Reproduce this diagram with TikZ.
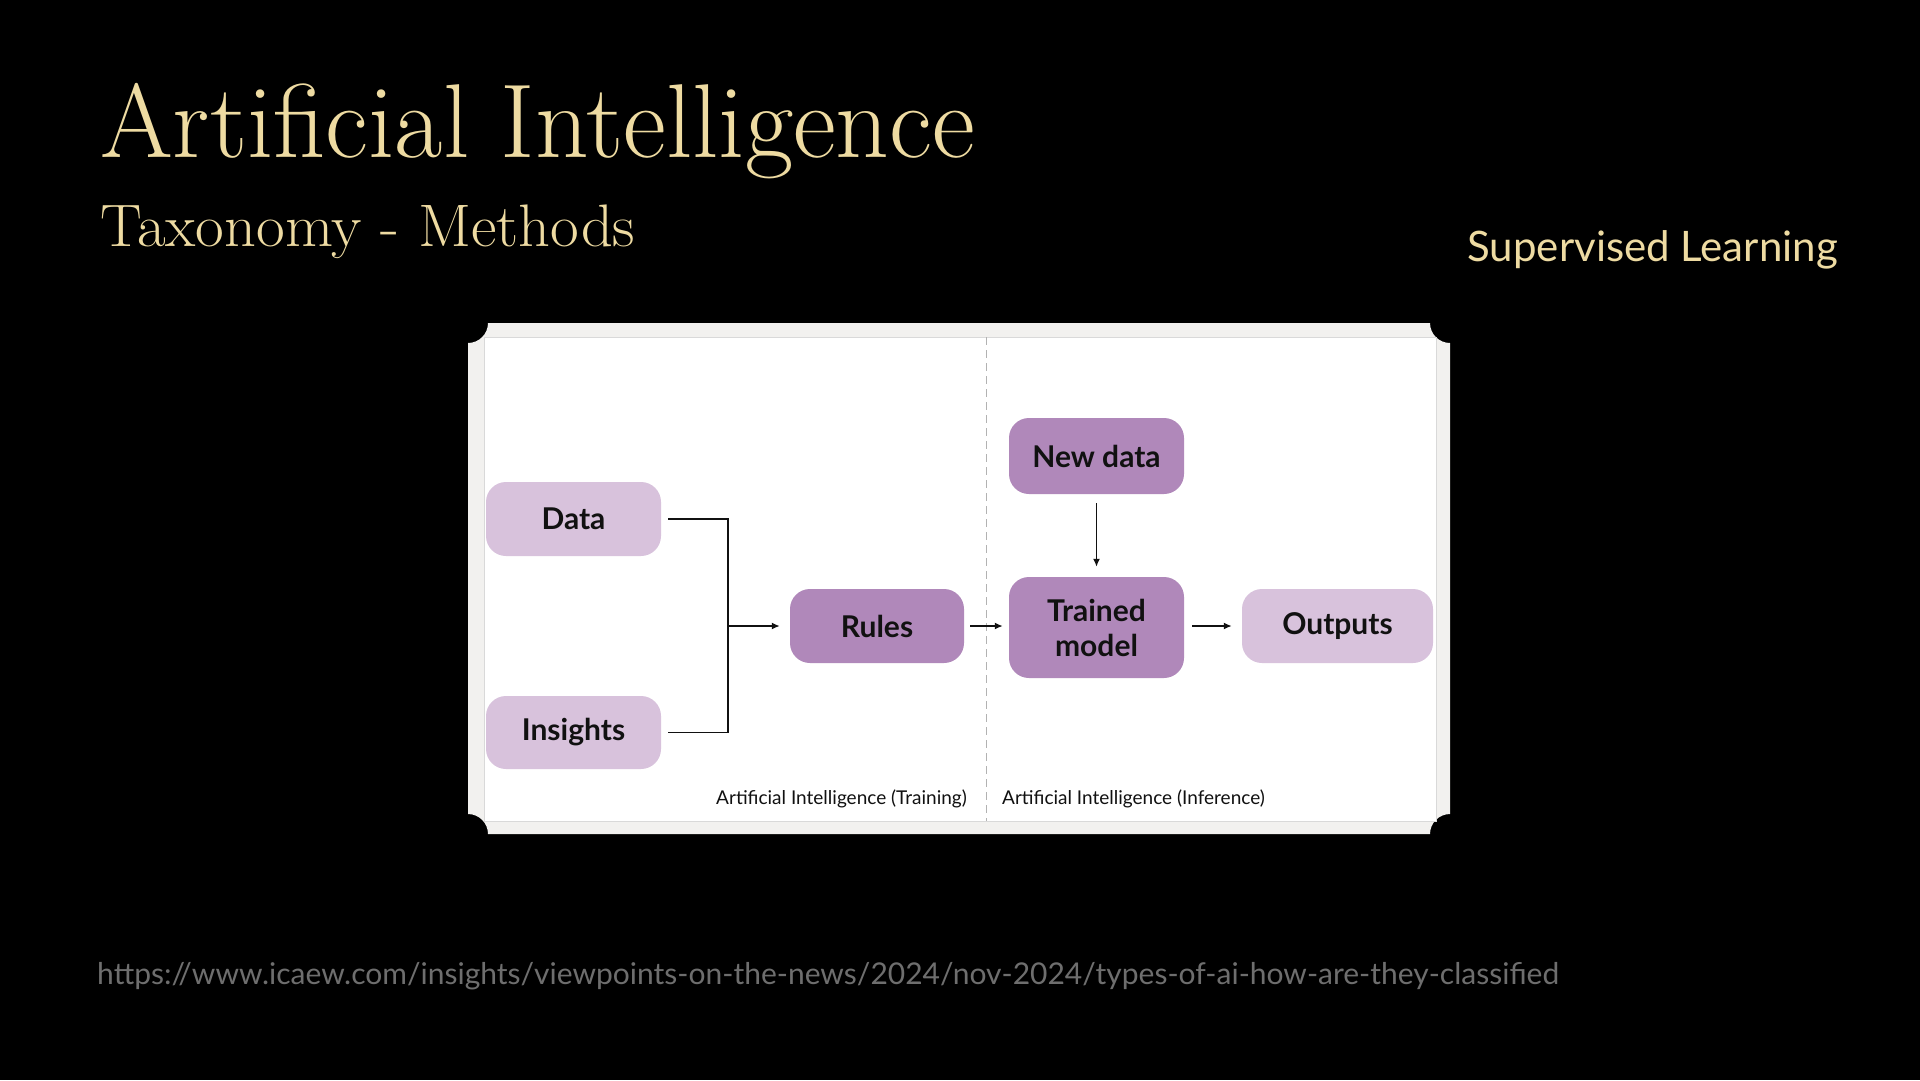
\documentclass[tikz,border=0pt]{standalone}
\usepackage{fontspec}
\usetikzlibrary{arrows.meta}
\newfontfamily\lato{Lato}
\definecolor{cream}{HTML}{EEDBA2}
\definecolor{lightpur}{HTML}{D8C2DC}
\definecolor{darkpur}{HTML}{B088BA}
\definecolor{cardgray}{HTML}{F2F1EF}
\definecolor{urlgray}{HTML}{6E6E6E}
\definecolor{inkc}{HTML}{111111}
\tikzset{
  pbox/.style={rounded corners=20pt, inner sep=0pt, align=center, text=inkc,
    font=\lato\bfseries\fontsize{30}{35}\selectfont},
  light/.style={pbox, fill=lightpur},
  dark/.style={pbox, fill=darkpur},
  conn/.style={line width=1.6pt, draw=inkc},
  arr/.style={conn, -{Latex[length=8pt,width=7pt]}},
  small/.style={font=\lato\fontsize{19}{21}\selectfont, text=inkc, inner sep=0pt}
}
\begin{document}
\begin{tikzpicture}[x=1pt,y=-1pt]
\fill[black] (0,0) rectangle (1920,1080);
\useasboundingbox (0,0) rectangle (1920,1080);
% titles
\node[anchor=base west, inner sep=0pt, text=cream, font=\fontsize{105}{110}\selectfont] (title) at (100,157) {Artificial Intelligence};
\node[anchor=base west, inner sep=0pt, text=cream, font=\fontsize{60}{64}\selectfont] (sub) at (100,246) {\scalebox{1.04}[1]{Taxonomy - Methods}};
\node[anchor=base east, inner sep=0pt, text=cream, font=\lato\fontsize{42}{46}\selectfont] (sup) at (1838,261) {Supervised Learning};
\node[anchor=base west, inner sep=0pt, text=urlgray, font=\lato\fontsize{30}{32}\selectfont] (url) at (97,984) {https://www.icaew.com/insights/viewpoints-on-the-news/2024/nov-2024/types-of-ai-how-are-they-classified};
% card
\fill[cardgray] (488,323) -- (1430,323) .. controls (1430,334) and (1439,343) .. (1450,343)
  -- (1450,814) .. controls (1439,814) and (1430,823) .. (1430,834)
  -- (488,834) .. controls (488,823) and (479,814) .. (468,814)
  -- (468,343) .. controls (479,343) and (488,334) .. (488,323) -- cycle;
\filldraw[fill=white, draw=black!15, line width=0.8pt] (484,337) rectangle (1436,821);
\draw[black!30, line width=1pt, dash pattern=on 8pt off 5pt] (986,337) -- (986,821);
% boxes
\node[light, minimum width=175pt, minimum height=74pt] (data) at (573.5,519) {Data};
\node[light, minimum width=175pt, minimum height=73pt] (ins) at (573.5,732.5) {Insights};
\node[dark, minimum width=174pt, minimum height=74pt] (rules) at (877,626) {Rules};
\node[dark, minimum width=175pt, minimum height=76pt] (new) at (1096.5,456) {New data};
\node[dark, minimum width=175pt, minimum height=101pt] (trained) at (1096.5,627.5) {Trained\\model};
\node[light, minimum width=191pt, minimum height=74pt] (out) at (1337.5,626) {Outputs};
% connectors
\coordinate (j) at (728,626);
\draw[conn] ([xshift=7pt]data.east) -| (j);
\draw[conn] ([xshift=7pt]ins.east) -| (j);
\draw[arr] (j) -- ([xshift=-10pt]rules.west);
\draw[arr] ([xshift=6pt]rules.east) -- ([xshift=-6pt]trained.west |- rules.east);
\draw[arr] ([xshift=8pt]trained.east |- out.west) -- ([xshift=-10pt]out.west);
\draw[arr] ([yshift=-9pt]new.south) -- ([yshift=10pt]trained.north);
% labels
\node[small, anchor=east] (ltrain) at (967,799) {Artificial Intelligence (Training)};
\node[small, anchor=west] (linf) at (1002,799) {Artificial Intelligence (Inference)};
\end{tikzpicture}
\end{document}
